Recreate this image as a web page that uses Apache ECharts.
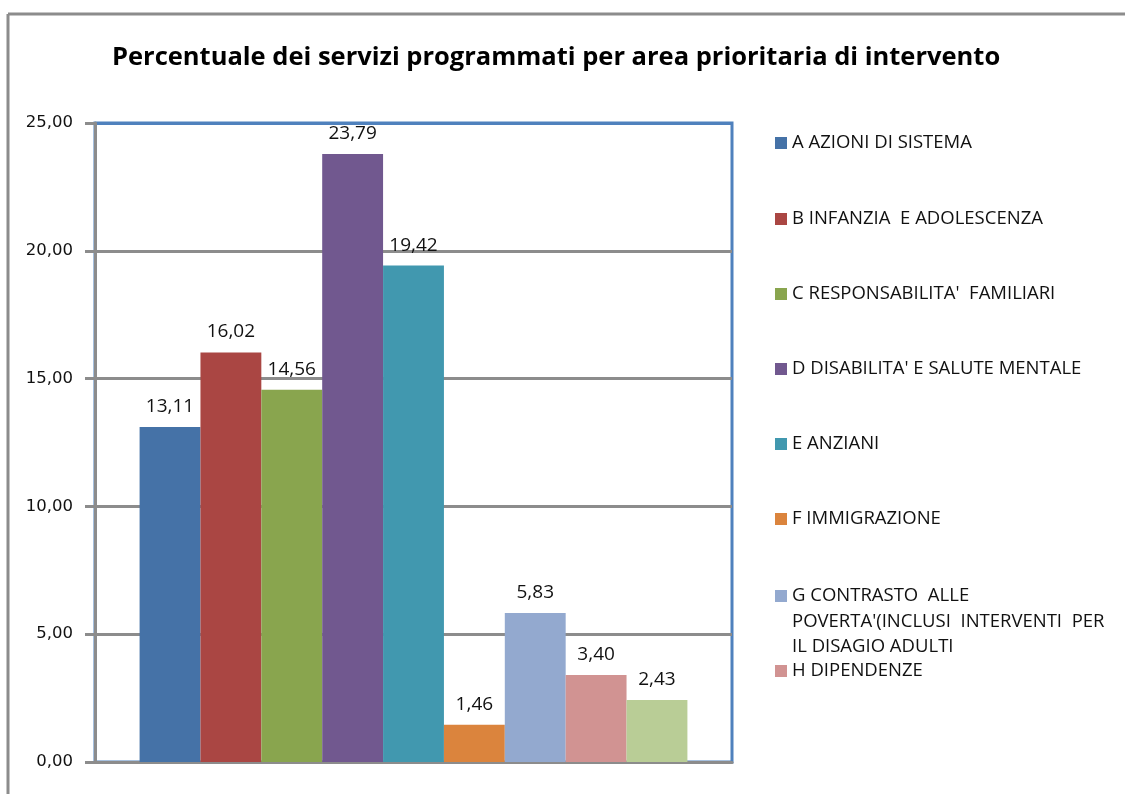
<!DOCTYPE html>
<html>
<head>
<meta charset="utf-8">
<script src="https://cdn.jsdelivr.net/npm/echarts@6/dist/echarts.min.js"></script>
<style>
html,body{margin:0;padding:0;background:#fff;}
#chart{width:1125px;height:794px;}
</style>
</head>
<body>
<div id="chart"></div>
<script>
// ---- data ----
const categories = [''];
const seriesNames = [
  'A AZIONI DI SISTEMA',
  'B INFANZIA  E ADOLESCENZA',
  "C RESPONSABILITA'  FAMILIARI",
  "D DISABILITA' E SALUTE MENTALE",
  'E ANZIANI',
  'F IMMIGRAZIONE',
  "G CONTRASTO  ALLE\nPOVERTA'(INCLUSI  INTERVENTI  PER\nIL DISAGIO ADULTI",
  'H DIPENDENZE',
  'I'
];
const values = [13.11, 16.02, 14.56, 23.79, 19.42, 1.46, 5.83, 3.40, 2.43];
const colors = ['#4572A7', '#AA4643', '#89A54E', '#71588F', '#4198AF', '#DB843D', '#93A9CF', '#D19392', '#B9CD96'];
const legendNames = seriesNames.slice(0, 8);
const yTicks = [0, 5, 10, 15, 20, 25];

const fmt = v => v.toFixed(2).replace('.', ',');

const chart = echarts.init(document.getElementById('chart'));

const legendCenters = [143, 219, 294, 369, 444, 519, 596, 671];
const LH = 25.5;
const legends = legendNames.map((n, i) => {
  const lines = n.split('\n').length;
  const lg = {
    data: [n],
    orient: 'vertical',
    left: 775,
    padding: 0,
    itemWidth: 12,
    itemHeight: 12,
    icon: 'rect',
    selectedMode: false,
    textStyle: {
      fontFamily: 'Open Sans',
      fontSize: 18.5,
      color: '#111',
      lineHeight: LH
    }
  };
  if (lines > 1) {
    // pad with blank lines above so the first line sits level with the icon
    lg.formatter = name => '\n'.repeat(lines - 1) + name;
    const H = (2 * lines - 1) * LH;
    lg.top = legendCenters[i] - H / 2;
  } else {
    lg.top = legendCenters[i] - LH / 2;
  }
  return lg;
});

const series = seriesNames.map((n, i) => ({
  name: n,
  type: 'bar',
  data: [values[i]],
  barGap: '0%',
  barCategoryGap: '14%',
  itemStyle: { color: colors[i] },
  label: {
    show: true,
    position: 'top',
    distance: 11,
    formatter: p => fmt(p.value),
    fontFamily: 'Open Sans',
    fontSize: 19,
    color: '#111'
  }
}));

chart.setOption({
  animation: false,
  backgroundColor: '#fff',
  title: {
    text: 'Percentuale dei servizi programmati per area prioritaria di intervento',
    left: 112,
    top: 45,
    padding: 0,
    textStyle: {
      fontFamily: 'Open Sans',
      fontWeight: 'bold',
      fontSize: 25.5,
      color: '#000'
    }
  },
  legend: legends,
  grid: {
    left: 95,
    right: 393,
    top: 123,
    bottom: 32,
    show: true,
    borderColor: '#4F81BD',
    borderWidth: 3,
    containLabel: false
  },
  xAxis: {
    type: 'category',
    data: categories,
    axisLine: { show: true, lineStyle: { color: '#8c8c8c', width: 3 } },
    axisTick: { show: false },
    axisLabel: { show: false },
    splitLine: { show: false }
  },
  yAxis: {
    type: 'value',
    min: 0,
    max: 25,
    interval: 5,
    axisLine: { show: true, lineStyle: { color: '#8c8c8c', width: 3 } },
    axisTick: { show: true, length: 10, lineStyle: { color: '#8c8c8c', width: 3 } },
    axisLabel: {
      formatter: v => fmt(v),
      margin: 22,
      fontFamily: 'DejaVu Sans',
      fontSize: 16.5,
      color: '#111'
    },
    splitLine: {
      show: true,
      lineStyle: { color: ['#8c8c8c', '#8c8c8c', '#8c8c8c', '#8c8c8c', '#8c8c8c', '#4F81BD'], width: 3 }
    }
  },
  graphic: [
    { type: 'line', shape: { x1: 8, y1: 14, x2: 1125, y2: 14 }, style: { stroke: '#8c8c8c', lineWidth: 3 } },
    { type: 'line', shape: { x1: 8, y1: 14, x2: 8, y2: 794 }, style: { stroke: '#8c8c8c', lineWidth: 3 } }
  ],
  series: series
});
</script>
</body>
</html>
